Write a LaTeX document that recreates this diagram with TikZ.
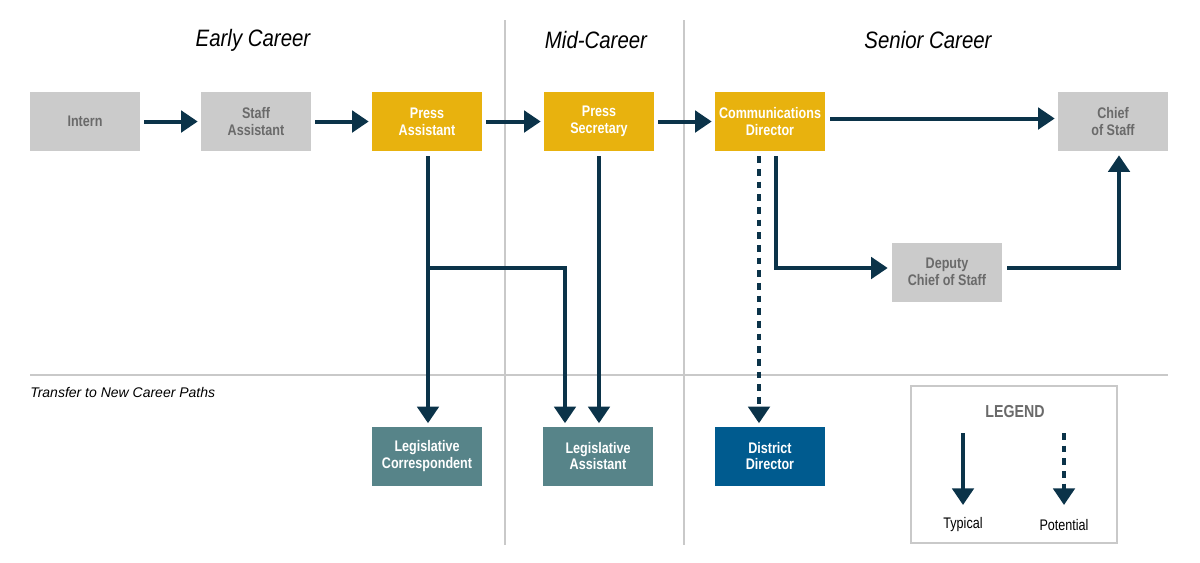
\documentclass[tikz,border=0pt]{standalone}
\usepackage{fontspec}
\setmainfont{Liberation Sans}
\newfontfamily\boxfont{Liberation Sans}[FakeStretch=0.82]
\newfontfamily\headfont{Liberation Sans}[FakeStretch=0.86]
\usetikzlibrary{arrows.meta}
\definecolor{boxgray}{HTML}{CBCBCB}
\definecolor{txtgray}{HTML}{6A6A6A}
\definecolor{gold}{HTML}{E8B20E}
\definecolor{teal}{HTML}{578489}
\definecolor{dblue}{HTML}{005B8F}
\definecolor{navy}{HTML}{0B3349}
\definecolor{rule}{HTML}{C9C9C9}
\tikzset{
  role/.style={minimum width=110*0.75pt, minimum height=59*0.75pt, inner sep=0pt, align=center,
    font=\boxfont\bfseries\fontsize{11.5}{12.5}\selectfont},
  grayrole/.style={role, fill=boxgray, text=txtgray},
  goldrole/.style={role, fill=gold, text=white},
  tealrole/.style={role, fill=teal, text=white},
  bluerole/.style={role, fill=dblue, text=white},
  flow/.style={draw=navy, line width=3pt, -{Triangle[length=12.5pt,width=16pt]}},
  potflow/.style={flow, dash pattern=on 5pt off 4.5pt},
  sep/.style={draw=rule, line width=1.1pt},
  heading/.style={font=\headfont\itshape\fontsize{17.8}{19}\selectfont, text=black},
}
\begin{document}
\begin{tikzpicture}[x=0.75pt,y=-0.75pt]
\useasboundingbox (0,0) rectangle (1200,562);
% separators
\draw[sep] (505,20) -- (505,545);
\draw[sep] (684,20) -- (684,545);
\draw[sep] (30,375) -- (1168,375);
% headings
\node[heading] (h1) at (253,40) {Early Career};
\node[heading] (h2) at (596,40) {Mid-Career};
\node[heading] (h3) at (928,40) {Senior Career};
\node[anchor=west, inner sep=0pt, font=\itshape\fontsize{10.5}{12}\selectfont] (tr) at (30,392) {Transfer to New Career Paths};
% roles
\node[grayrole] (intern) at (85,121.5) {Intern};
\node[grayrole] (staff) at (256,121.5) {Staff\\Assistant};
\node[goldrole] (pa) at (427,121.5) {Press\\Assistant};
\node[goldrole] (ps) at (599,121.5) {Press\\Secretary};
\node[goldrole] (cd) at (770,121.5) {Communications\\Director};
\node[grayrole] (cos) at (1113,121.5) {Chief\\of Staff};
\node[grayrole] (dcos) at (947,272) {Deputy\\Chief of Staff};
\node[tealrole] (lc) at (427,456) {Legislative\\Correspondent};
\node[tealrole] (la) at (598,456) {Legislative\\Assistant};
\node[bluerole] (dd) at (770,456) {District\\Director};
% top flow
\draw[flow, shorten <=4*0.75pt, shorten >=3*0.75pt] (intern.east) -- (staff.west);
\draw[flow, shorten <=4*0.75pt, shorten >=3*0.75pt] (staff.east) -- (pa.west);
\draw[flow, shorten <=4*0.75pt, shorten >=3*0.75pt] (pa.east) -- (ps.west);
\draw[flow, shorten <=4*0.75pt, shorten >=3*0.75pt] (ps.east) -- (cd.west);
\draw[flow, shorten <=5*0.75pt, shorten >=3*0.75pt] ([yshift=3*0.75pt]cd.east) -- ([yshift=3*0.75pt]cos.west);
% downward
\draw[flow, shorten <=5*0.75pt, shorten >=3*0.75pt] ([xshift=1*0.75pt]pa.south) -- ([xshift=1*0.75pt]lc.north);
\coordinate (br) at (428,268);
\draw[flow, shorten >=3*0.75pt] (br) -| ([xshift=-33*0.75pt]la.north);
\draw[flow, shorten <=5*0.75pt, shorten >=3*0.75pt] (ps.south) -- ([xshift=1*0.75pt]la.north);
\draw[potflow, shorten <=5*0.75pt, shorten >=3*0.75pt] ([xshift=-11*0.75pt]cd.south) -- ([xshift=-11*0.75pt]dd.north);
\draw[flow, shorten <=5*0.75pt, shorten >=4*0.75pt] ([xshift=6*0.75pt]cd.south) |- ([yshift=4*0.75pt]dcos.west);
\draw[flow, shorten <=5*0.75pt, shorten >=4*0.75pt] ([yshift=4*0.75pt]dcos.east) -| ([xshift=6*0.75pt]cos.south);
% legend
\node[draw=rule, line width=0.8pt, minimum width=206*0.75pt, minimum height=157*0.75pt, inner sep=0pt] (lg) at (1014,464.5) {};
\node[font=\boxfont\bfseries\fontsize{13}{14}\selectfont, text=txtgray] (lgt) at (1015,412) {LEGEND};
\coordinate (t1) at (963,433);
\coordinate (t2) at (963,505);
\coordinate (p1) at (1064,433);
\coordinate (p2) at (1064,505);
\draw[flow] (t1) -- (t2);
\draw[potflow] (p1) -- (p2);
\node[font=\boxfont\fontsize{11.5}{12}\selectfont] (lt) at (963,525) {Typical};
\node[font=\boxfont\fontsize{11.5}{12}\selectfont] (lp) at (1064,525) {Potential};
\end{tikzpicture}
\end{document}
